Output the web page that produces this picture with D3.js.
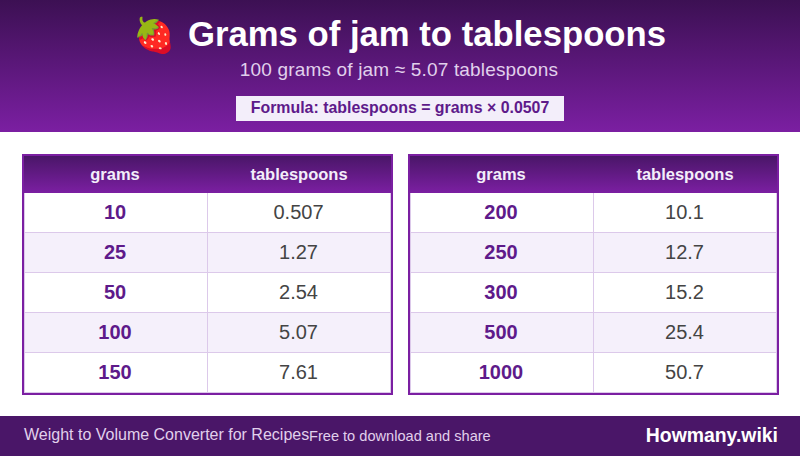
<!DOCTYPE html>
<html><head><meta charset="utf-8">
<script src="https://cdn.jsdelivr.net/npm/d3@7"></script>
<style>html,body{margin:0;padding:0;background:#fff;overflow:hidden}svg{display:block;position:absolute;left:0;top:0}
#c{position:relative;width:800px;height:456px}
.t{position:absolute;white-space:nowrap;height:40px;line-height:40px;font-family:"Liberation Sans",Arial,sans-serif}</style>
</head><body><div id="c"></div>
<script>
const title = "Grams of jam to tablespoons";
const emoji = "\u{1F353}";
const subtitle = "100 grams of jam \u2248 5.07 tablespoons";
const formula = "Formula: tablespoons = grams \u00D7 0.0507";
const columns = ["grams", "tablespoons"];
const gramsLeft = ["10", "25", "50", "100", "150"];
const tbspLeft = ["0.507", "1.27", "2.54", "5.07", "7.61"];
const gramsRight = ["200", "250", "300", "500", "1000"];
const tbspRight = ["10.1", "12.7", "15.2", "25.4", "50.7"];
const footerLeft = "Weight to Volume Converter for Recipes";
const footerMid = "Free to download and share";
const brand = "Howmany.wiki";

const W = 800, H = 456;
const root = d3.select("#c");
const svg = root.append("svg").attr("width", W).attr("height", H);
const defs = svg.append("defs");
function grad(id, a, b) {
  const g = defs.append("linearGradient").attr("id", id).attr("x1", 0).attr("y1", 0).attr("x2", 0).attr("y2", 1);
  g.append("stop").attr("offset", 0).attr("stop-color", a);
  g.append("stop").attr("offset", 1).attr("stop-color", b);
}
grad("hd", "#3c1053", "#7b1fa2");
grad("th", "#4a1668", "#7b1fa2");

function label(str, x, top, size, color, opts = {}) {
  const anchor = opts.anchor || "middle";
  const d = root.append("div").attr("class", "t").text(str)
    .style("top", (top - 20) + "px").style("font-size", size + "px").style("color", color)
    .style("font-weight", opts.bold ? 700 : 400);
  if (opts.spacing) d.style("letter-spacing", opts.spacing + "px");
  if (anchor === "middle") d.style("left", (x - 300) + "px").style("width", "600px").style("text-align", "center");
  if (anchor === "start") d.style("left", x + "px");
  if (anchor === "end") d.style("right", (W - x) + "px");
  return d;
}

svg.append("rect").attr("width", W).attr("height", 132).attr("fill", "url(#hd)");
label(emoji, 154, 35, 34, "#000");
label(title, 427, 34, 34.7, "#fff", {bold: true});
label(subtitle, 399, 70, 19, "#e1d0ec", {spacing: 0.17});
svg.append("rect").attr("x", 236).attr("y", 96).attr("width", 328).attr("height", 25).attr("fill", "#f3eefa");
label(formula, 400, 108, 15.9, "#5e1a8a", {bold: true});

function table(x0, grams, tbsp) {
  const g = svg.append("g");
  const x = d3.scaleBand().domain(columns).range([x0 + 1, x0 + 369]);
  const y = d3.scaleBand().domain(d3.range(grams.length)).range([193, 393]);
  g.append("rect").attr("x", x0).attr("y", 154).attr("width", 371).attr("height", 241).attr("fill", "#7b1fa2");
  g.append("rect").attr("x", x0 + 2).attr("y", 156).attr("width", 367).attr("height", 37).attr("fill", "url(#th)");
  columns.forEach(c => label(c, x(c) + x.bandwidth() / 2, 174, 16.5, "#f3eefa", {bold: true}));
  const rows = g.selectAll("g.r").data(grams.map((d, i) => [d, tbsp[i]])).join("g").attr("class", "r")
    .attr("transform", (d, i) => `translate(0,${y(i)})`);
  rows.append("rect").attr("x", x0 + 2).attr("width", 367).attr("height", y.bandwidth())
    .attr("fill", (d, i) => i % 2 ? "#f5f0fb" : "#fff");
  const line = "#dcc9ea";
  rows.append("rect").attr("x", x0 + 2).attr("y", y.bandwidth() - 1).attr("width", 367).attr("height", 1).attr("fill", line);
  rows.append("rect").attr("x", x0 + 185).attr("width", 1).attr("height", y.bandwidth()).attr("fill", line);
  rows.append("rect").attr("x", x0 + 2).attr("width", 1).attr("height", y.bandwidth()).attr("fill", line);
  rows.append("rect").attr("x", x0 + 368).attr("width", 1).attr("height", y.bandwidth()).attr("fill", line);
  grams.forEach((d, i) => {
    label(d, x(columns[0]) + x.bandwidth() / 2, y(i) + 19, 20, "#5e1a8a", {bold: true});
    label(tbsp[i], x(columns[1]) + x.bandwidth() / 2 - 0.5, y(i) + 19, 20, "#444");
  });
}
table(22, gramsLeft, tbspLeft);
table(408, gramsRight, tbspRight);

svg.append("rect").attr("y", 416).attr("width", W).attr("height", 40).attr("fill", "#4a1668");
label(footerLeft, 24, 435, 16, "#e1d0ec", {anchor: "start"});
label(footerMid, 309, 436, 14.6, "#e1d0ec", {anchor: "start"});
label(brand, 778, 435, 19.4, "#fff", {anchor: "end", bold: true});
</script></body></html>
